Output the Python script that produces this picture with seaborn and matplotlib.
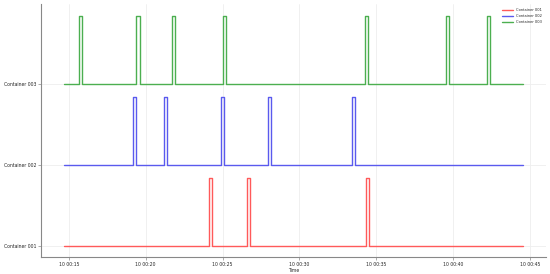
import pandas as pd
import seaborn as sns
from matplotlib import pyplot as plt
import matplotlib.dates as mdates

"""
Data: pulse start times (seconds after 10:00:00) for each container
"""
containers = ['Container 001', 'Container 002', 'Container 003']
pulses_001 = [24.1, 26.6, 34.3]
pulses_002 = [19.2, 21.2, 24.9, 27.95, 33.4]
pulses_003 = [15.67, 19.4, 21.7, 25.0, 34.27, 39.5, 42.2]
PULSE_WIDTH = 0.2
PULSE_HEIGHT = 0.84
T_START = 14.7
T_END = 44.55
colors = ['#ff5a5a', '#5a5aee', '#4caf50']

t0 = pd.Timestamp('2024-01-10 10:00:00')
rows = []
for level, (name, pulses) in enumerate(zip(containers,
                                            [pulses_001, pulses_002, pulses_003])):
    pts = [(T_START, 0)]
    for p in pulses:
        pts += [(p, 0), (p, PULSE_HEIGHT), (p + PULSE_WIDTH, PULSE_HEIGHT),
                (p + PULSE_WIDTH, 0)]
    pts.append((T_END, 0))
    for sec, val in pts:
        rows.append({'Time': t0 + pd.Timedelta(seconds=sec),
                     'value': level + val, 'container': name})
df = pd.DataFrame(rows)

"""
Plot
"""
sns.set_style('white')
plt.rcParams['font.family'] = ['DejaVu Sans']
fig, ax = plt.subplots(figsize=(5.5, 2.74), dpi=100)
plt.subplots_adjust(left=0.075, right=0.993, top=0.985, bottom=0.062)
sns.lineplot(data=df, x='Time', y='value', hue='container', palette=colors,
             estimator=None, sort=False, linewidth=1.0, ax=ax)
ax.set_yticks([0, 1, 2])
ax.set_yticklabels(containers)
ax.set_ylabel('')
ax.set_xlabel('Time', fontsize=3.3, labelpad=1)
ax.xaxis.set_major_locator(mdates.SecondLocator(bysecond=range(0, 60, 5)))
ax.xaxis.set_major_formatter(mdates.DateFormatter('%d %M:%S'))
ax.xaxis.set_major_formatter(mdates.DateFormatter('%H %M:%S'))
ax.tick_params(labelsize=3.3, length=2, width=0.5, color='#888888', pad=1.5,
               bottom=True, left=True)
ax.grid(True, color='#eeeeee', linewidth=0.6)
for side in ['top', 'right']:
    ax.spines[side].set_visible(False)
for side in ['left', 'bottom']:
    ax.spines[side].set_color('#888888')
    ax.spines[side].set_linewidth(0.8)
ax.legend(loc='upper right', frameon=False, fontsize=2.6, handlelength=3,
          labelspacing=0.5, borderaxespad=0.8)
plt.savefig('out.png', dpi=100)
